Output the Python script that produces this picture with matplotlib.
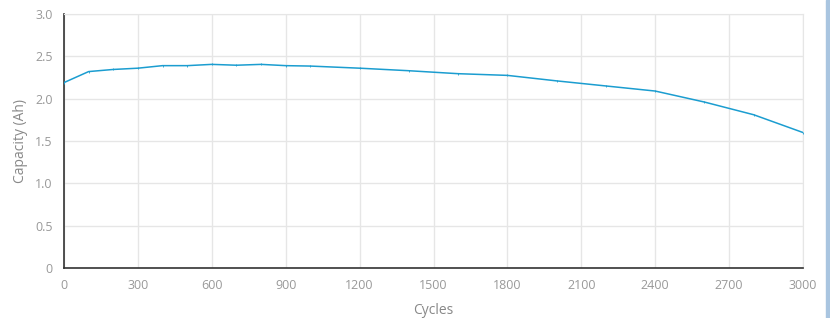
import matplotlib
matplotlib.use("Agg")
import matplotlib.pyplot as plt
from matplotlib.patches import Rectangle
from matplotlib.ticker import FixedLocator

plt.rcParams['font.family'] = ['Open Sans', 'DejaVu Sans']

cycles = [0, 100, 200, 300, 400, 500, 600, 700, 800, 900, 1000, 1200, 1400, 1600, 1800,
          2000, 2200, 2400, 2600, 2800, 3000]
capacity = [2.19, 2.32, 2.345, 2.36, 2.39, 2.39, 2.405, 2.395, 2.405, 2.39, 2.385, 2.36,
            2.33, 2.295, 2.275, 2.21, 2.15, 2.09, 1.96, 1.81, 1.60]
x_ticks = [0, 300, 600, 900, 1200, 1500, 1800, 2100, 2400, 2700, 3000]
y_ticks = [0, 0.5, 1.0, 1.5, 2.0, 2.5, 3.0]
y_tick_labels = ["0", "0.5", "1.0", "1.5", "2.0", "2.5", "3.0"]

fig = plt.figure(figsize=(8.3, 3.18), dpi=100)
ax = fig.add_axes([64/830, 1-268/318, (803-64)/830, (268-14)/318])

ax.plot(cycles, capacity, color='#1b9dd0', lw=1.1, marker='|', markersize=1.8,
        markeredgewidth=0.6, zorder=3)

ax.set_xlim(0, 3000)
ax.set_ylim(0, 3.0)
ax.xaxis.set_major_locator(FixedLocator(x_ticks))
ax.set_xticklabels([str(t) for t in x_ticks])
ax.yaxis.set_major_locator(FixedLocator(y_ticks))
ax.set_yticklabels(y_tick_labels)
ax.grid(True, color='#e6e6e6', lw=1.0)
ax.set_axisbelow(True)
ax.tick_params(length=0, labelsize=9, colors='#999999', pad=8)
for s in ['top', 'right']:
    ax.spines[s].set_color('#e6e6e6')
for s in ['left', 'bottom']:
    ax.spines[s].set_color('#333333')
    ax.spines[s].set_linewidth(1.2)

ax.set_xlabel('Cycles', fontsize=10, color='#888888', labelpad=8)
ax.set_ylabel('Capacity (Ah)', fontsize=10, color='#888888', labelpad=5)

fig.patches.append(Rectangle((826/830, 0), 4/830, 1, transform=fig.transFigure,
                             color='#a9c5e0', zorder=0))

fig.savefig('out.png', dpi=100)
